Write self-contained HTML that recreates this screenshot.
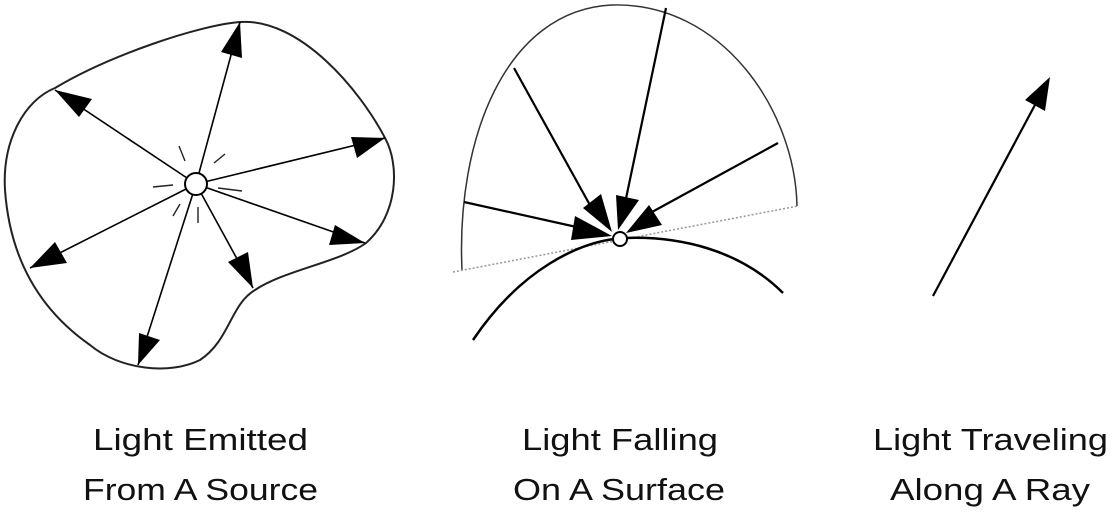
<!DOCTYPE html>
<html><head><meta charset="utf-8"><style>
html,body{margin:0;padding:0;background:#fff;width:1112px;height:512px;overflow:hidden}
svg{display:block}
text{font-family:"Liberation Sans",sans-serif;font-size:31px;fill:#111}
</style></head><body>
<svg width="1112" height="512" viewBox="0 0 1112 512">
<g stroke="#222" fill="none">
<path stroke-width="2" d="M240,22 C300,18 360,90 385,138 C400,165 398,215 366,243 C340,262 285,270 255,290 C230,305 230,340 200,360 C170,375 120,370 90,345 C40,310 10,260 5,190 C2,140 25,100 55,88 C110,55 200,25 240,22 Z"/>
<g stroke="#000" stroke-width="1.6">
<line x1="196" y1="184" x2="240" y2="22"/>
<line x1="196" y1="184" x2="55" y2="90"/>
<line x1="196" y1="184" x2="385" y2="138"/>
<line x1="196" y1="184" x2="365" y2="243"/>
<line x1="196" y1="184" x2="30" y2="268"/>
<line x1="196" y1="184" x2="253" y2="288"/>
<line x1="196" y1="184" x2="138" y2="365"/>
</g>
<g fill="#000" stroke="none">
<polygon points="240,22 221,52 242,58"/>
<polygon points="55,90 79,117 92,99"/>
<polygon points="385,138 351,137 357,158"/>
<polygon points="365,243 335,225 329,245"/>
<polygon points="30,268 55,242 67,263"/>
<polygon points="253,288 228,262 248,252"/>
<polygon points="138,365 139,333 160,340"/>
</g>
<g stroke-width="1.4">
<line x1="179" y1="146" x2="185" y2="161"/>
<line x1="214" y1="163" x2="225" y2="154"/>
<line x1="153" y1="187" x2="173" y2="185"/>
<line x1="218" y1="188" x2="242" y2="191"/>
<line x1="173" y1="216" x2="180" y2="204"/>
<line x1="198" y1="207" x2="198" y2="223"/>
</g>
<circle cx="196" cy="184" r="11" fill="#fff" stroke="#000" stroke-width="2"/>
</g>
<g fill="none">
<path stroke="#333" stroke-width="1.5" d="M462,270 C456,140 505,10 612,5 C722,2 795,110 797,206"/>
<line x1="453" y1="272" x2="798" y2="206" stroke="#999" stroke-width="1.5" stroke-dasharray="2,2"/>
<path stroke="#000" stroke-width="2.5" d="M473,340 C520,270 580,240 625,238 C680,236 740,250 783,293"/>
<g stroke="#000" stroke-width="2.2">
<line x1="464" y1="202" x2="590" y2="230"/>
<line x1="514" y1="68" x2="596" y2="216"/>
<line x1="666" y1="8" x2="624" y2="208"/>
<line x1="778" y1="143" x2="652" y2="212"/>
</g>
<g fill="#000">
<polygon points="612,236 575,216 571,240"/>
<polygon points="612,232 583,208 601,194"/>
<polygon points="618,230 616,195 639,200"/>
<polygon points="626,233 649,205 662,225"/>
</g>
<circle cx="620" cy="239" r="7" fill="#fff" stroke="#000" stroke-width="2"/>
</g>
<g>
<line x1="933" y1="296" x2="1036" y2="103" stroke="#000" stroke-width="2.2"/>
<polygon points="1050,77 1025,100 1045,111" fill="#000"/>
</g>
<g>
<text x="93" y="450" textLength="215" lengthAdjust="spacingAndGlyphs">Light Emitted</text>
<text x="83" y="500" textLength="235" lengthAdjust="spacingAndGlyphs">From A Source</text>
<text x="522" y="450" textLength="196" lengthAdjust="spacingAndGlyphs">Light Falling</text>
<text x="513" y="500" textLength="212" lengthAdjust="spacingAndGlyphs">On A Surface</text>
<text x="873" y="450" textLength="235" lengthAdjust="spacingAndGlyphs">Light Traveling</text>
<text x="890" y="500" textLength="200" lengthAdjust="spacingAndGlyphs">Along A Ray</text>
</g>
</svg>
</body></html>
